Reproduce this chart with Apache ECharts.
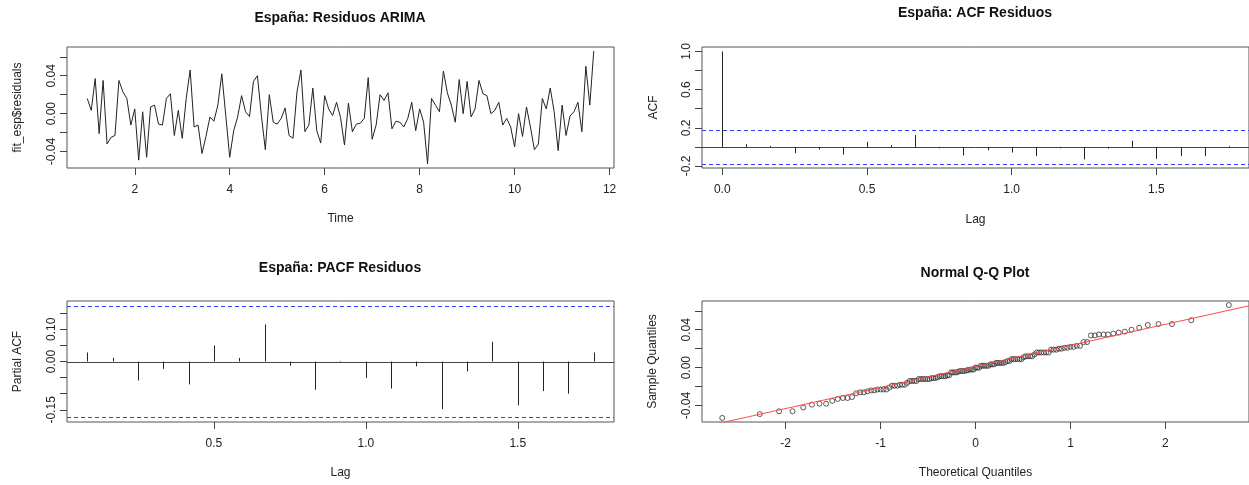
<!DOCTYPE html>
<html>
<head>
<meta charset="utf-8">
<title>España: residuos ARIMA</title>
<script src="https://cdn.jsdelivr.net/npm/echarts@6/dist/echarts.min.js"></script>
<style>
  html, body { margin: 0; padding: 0; background: #fff; }
  #chart { width: 1249px; height: 485px; }
</style>
</head>
<body>
<div id="chart"></div>
<script>
// serie mensual de residuos, empieza en t = 1
const tsStart = 1;
const tsFreq = 12;
const residuals = [
  0.016, 0.0035, 0.037, -0.021, 0.035, -0.032, -0.025, -0.023, 0.035, 0.023,
  0.016, -0.012, 0.005, -0.049, 0.002, -0.046, 0.007, 0.009, -0.011, -0.012,
  0.016, 0.021, -0.023, 0.0035, -0.026, 0.016, 0.046, -0.014, -0.012, -0.042,
  -0.024, -0.0035, -0.008, 0.009, 0.042, -0.002, -0.046, -0.018, -0.0035, 0.019,
  0.002, -0.003, 0.034, 0.040, -0.002, -0.038, 0.020, -0.009, -0.011, -0.005,
  0.006, -0.023, -0.026, 0.023, 0.046, -0.019, -0.012, 0.027, -0.018, -0.031,
  0.019, 0.005, -0.002, 0.012, -0.004, -0.033, 0.011, -0.019, -0.011, -0.010,
  -0.005, 0.038, -0.027, -0.012, 0.020, 0.014, 0.022, -0.016, -0.008, -0.009,
  -0.014, -0.005, 0.012, -0.018, 0.005, -0.009, -0.053, 0.016, 0.009, 0.002,
  0.045, 0.022, 0.009, -0.009, 0.036, 0.000, 0.034, -0.0035, 0.005, 0.035,
  0.021, 0.019, 0.000, 0.0035, 0.012, -0.012, -0.005, -0.014, -0.035, 0.000,
  -0.024, 0.007, -0.014, -0.038, -0.032, 0.016, 0.005, 0.027, 0.002, -0.039,
  0.009, -0.023, -0.0025, 0.002, 0.012, -0.019, 0.050, 0.009, 0.066
];
const tsXTicks = [2, 4, 6, 8, 10, 12];
const tsYTicks = [-0.04, -0.02, 0, 0.02, 0.04, 0.06];
const tsYLabels = [-0.04, 0, 0.04];

// ACF (lags 0..21, en años) y PACF (lags 1..21)
const lagFreq = 12;
const acfValues = [
  1, 0.028, 0.010, -0.066, -0.028, -0.080, 0.052, 0.020, 0.125, -0.014, -0.090,
  -0.035, -0.059, -0.097, -0.014, -0.131, -0.017, 0.066, -0.125, -0.097, -0.097, 0.008
];
const pacfValues = [
  0.028, 0.011, -0.059, -0.023, -0.071, 0.050, 0.011, 0.115, -0.013, -0.088,
  -0.003, -0.051, -0.084, -0.015, -0.148, -0.031, 0.061, -0.136, -0.092, -0.100, 0.028
];
const confBound = 0.174;
const acfXTicks = [0, 0.5, 1, 1.5];
const acfYTicks = [-0.2, 0, 0.2, 0.4, 0.6, 0.8, 1];
const acfYLabels = [-0.2, 0.2, 0.6, 1];
const pacfXTicks = [0.5, 1, 1.5];
const pacfYTicks = [-0.15, -0.1, -0.05, 0, 0.05, 0.1, 0.15];
const pacfYLabels = [-0.15, 0, 0.1];

// Q-Q normal
const qqTheoretical = [
  -2.667, -2.272, -2.069, -1.927, -1.814, -1.723, -1.643, -1.573, -1.508, -1.451,
  -1.396, -1.348, -1.300, -1.257, -1.215, -1.175, -1.138, -1.100, -1.066, -1.033,
  -0.999, -0.968, -0.938, -0.907, -0.879, -0.851, -0.823, -0.796, -0.770, -0.744,
  -0.719, -0.693, -0.669, -0.645, -0.621, -0.597, -0.575, -0.552, -0.529, -0.507,
  -0.485, -0.463, -0.442, -0.420, -0.399, -0.378, -0.358, -0.337, -0.316, -0.296,
  -0.276, -0.256, -0.236, -0.216, -0.195, -0.176, -0.156, -0.137, -0.117, -0.097,
  -0.078, -0.058, -0.039, -0.019, 0,
  0.019, 0.039, 0.058, 0.078, 0.097, 0.117, 0.137, 0.156, 0.176, 0.195,
  0.216, 0.236, 0.256, 0.276, 0.296, 0.316, 0.337, 0.358, 0.378, 0.399,
  0.420, 0.442, 0.463, 0.485, 0.507, 0.529, 0.552, 0.575, 0.597, 0.621,
  0.645, 0.669, 0.693, 0.719, 0.744, 0.770, 0.796, 0.823, 0.851, 0.879,
  0.907, 0.938, 0.968, 0.999, 1.033, 1.066, 1.100, 1.138, 1.175, 1.215,
  1.257, 1.300, 1.348, 1.396, 1.451, 1.508, 1.573, 1.643, 1.723, 1.814,
  1.927, 2.069, 2.272, 2.667
];
const qqSample = [
  -0.053, -0.049, -0.046, -0.046, -0.042, -0.039, -0.038, -0.038, -0.035, -0.033,
  -0.032, -0.032, -0.031, -0.027, -0.026, -0.026, -0.025, -0.024, -0.024, -0.023,
  -0.023, -0.023, -0.023, -0.021, -0.019, -0.019, -0.019, -0.018, -0.018, -0.018,
  -0.016, -0.014, -0.014, -0.014, -0.014, -0.012, -0.012, -0.012, -0.012, -0.012,
  -0.012, -0.011, -0.011, -0.011, -0.010, -0.009, -0.009, -0.009, -0.009, -0.008,
  -0.008, -0.005, -0.005, -0.005, -0.005, -0.004, -0.0035, -0.0035, -0.0035, -0.003,
  -0.0025, -0.002, -0.002, -0.002, 0.000, 0.000, 0.000, 0.002, 0.002, 0.002,
  0.002, 0.002, 0.0035, 0.0035, 0.0035, 0.005, 0.005, 0.005, 0.005, 0.005,
  0.006, 0.007, 0.007, 0.009, 0.009, 0.009, 0.009, 0.009, 0.009, 0.011,
  0.012, 0.012, 0.012, 0.012, 0.014, 0.016, 0.016, 0.016, 0.016, 0.016,
  0.016, 0.019, 0.019, 0.019, 0.020, 0.020, 0.021, 0.021, 0.022, 0.022,
  0.023, 0.023, 0.027, 0.027, 0.034, 0.034, 0.035, 0.035, 0.035, 0.036,
  0.037, 0.038, 0.040, 0.042, 0.045, 0.046, 0.046, 0.050, 0.066
];
const qqLineIntercept = 0.0013;
const qqLineSlope = 0.0222;
const qqXTicks = [-2, -1, 0, 1, 2];

const FONT = 'Liberation Sans';
const INK = '#222';

// limites de los ejes (como los pone R: rango + 4%)
const tsRange = [0.573, 12.093];
const acfRange = [-0.07, 1.82];
const pacfRange = [0.0167, 1.8167];
const qqRange = [-2.88, 2.88];

// eje estilo R: caja aparte, ticks hacia fuera, etiquetas solo donde toca
function rAxis(range, ticks, labels, digits, name, isY, nameGap) {
  return {
    type: 'value',
    min: range[0],
    max: range[1],
    name: name,
    nameLocation: 'middle',
    nameGap: nameGap,
    nameTextStyle: { color: INK, fontSize: 12, fontFamily: FONT },
    axisLine: { show: false, onZero: false },
    splitLine: { show: false },
    axisTick: { show: true, length: 7, customValues: ticks, lineStyle: { color: '#444' } },
    axisLabel: {
      customValues: labels,
      rotate: isY ? 90 : 0,
      margin: isY ? 9 : 16,
      color: INK,
      fontSize: 12,
      fontFamily: FONT,
      formatter: v => v.toFixed(digits)
    }
  };
}

// barras finas tipo 'h' de R
function stem(params, api) {
  const base = api.coord([api.value(0), 0]);
  const tip = api.coord([api.value(0), api.value(1)]);
  const x = Math.round(base[0]) + 0.5;
  return {
    type: 'line',
    shape: { x1: x, y1: base[1], x2: x, y2: tip[1] },
    style: { stroke: INK, lineWidth: 1 }
  };
}

// lineas horizontales a lo ancho del panel: [xIni, nivel, xFin, tipo]
function refLines(levels, xRange, gi) {
  return {
    type: 'custom',
    xAxisIndex: gi, yAxisIndex: gi,
    silent: true,
    encode: { x: [0, 2], y: 1 },
    data: levels.map(l => [xRange[0], l[0], xRange[1], l[1]]),
    renderItem: function (params, api) {
      const p1 = api.coord([api.value(0), api.value(1)]);
      const p2 = api.coord([api.value(2), api.value(1)]);
      const y = Math.round(p1[1]) + 0.5;
      const dashed = api.value(3) === 1;
      return {
        type: 'line',
        shape: { x1: p1[0], y1: y, x2: p2[0], y2: y },
        style: {
          stroke: dashed ? '#3c3cff' : '#444',
          lineWidth: 1,
          lineDash: dashed ? [4, 3] : null
        }
      };
    }
  };
}

const titleStyle = { fontSize: 14, fontWeight: 'bold', color: '#111', fontFamily: FONT };
const box = { show: true, borderColor: '#555', borderWidth: 1, backgroundColor: 'transparent' };
// nivel y si es discontinua (1) o no (0)
const corrRefs = [[0, 0], [confBound, 1], [-confBound, 1]];

const chart = echarts.init(document.getElementById('chart'), null, { renderer: 'canvas' });

chart.setOption({
  backgroundColor: '#fff',
  animation: false,
  title: [
    { text: 'España: Residuos ARIMA', left: 340, top: 11, textAlign: 'center', padding: 0, textStyle: titleStyle },
    { text: 'España: ACF Residuos', left: 975, top: 6, textAlign: 'center', padding: 0, textStyle: titleStyle },
    { text: 'España: PACF Residuos', left: 340, top: 261, textAlign: 'center', padding: 0, textStyle: titleStyle },
    { text: 'Normal Q-Q Plot', left: 975, top: 266, textAlign: 'center', padding: 0, textStyle: titleStyle }
  ],
  grid: [
    Object.assign({ left: 67, top: 47, width: 547, height: 121 }, box),
    Object.assign({ left: 702, top: 47, width: 547, height: 121 }, box),
    Object.assign({ left: 67, top: 301, width: 547, height: 121 }, box),
    Object.assign({ left: 702, top: 301, width: 547, height: 121 }, box)
  ],
  xAxis: [
    Object.assign(rAxis(tsRange, tsXTicks, tsXTicks, 0, 'Time', false, 45), { gridIndex: 0 }),
    Object.assign(rAxis(acfRange, acfXTicks, acfXTicks, 1, 'Lag', false, 46), { gridIndex: 1 }),
    Object.assign(rAxis(pacfRange, pacfXTicks, pacfXTicks, 1, 'Lag', false, 45), { gridIndex: 2 }),
    Object.assign(rAxis(qqRange, qqXTicks, qqXTicks, 0, 'Theoretical Quantiles', false, 45), { gridIndex: 3 })
  ],
  yAxis: [
    Object.assign(rAxis([-0.0573, 0.0703], tsYTicks, tsYLabels, 2, 'fit_esp$residuals', true, 43), { gridIndex: 0 }),
    Object.assign(rAxis([-0.221, 1.047], acfYTicks, acfYLabels, 1, 'ACF', true, 42), { gridIndex: 1 }),
    Object.assign(rAxis([-0.188, 0.188], pacfYTicks, pacfYLabels, 2, 'Partial ACF', true, 43), { gridIndex: 2 }),
    Object.assign(rAxis([-0.0573, 0.0703], tsYTicks, tsYLabels, 2, 'Sample Quantiles', true, 43), { gridIndex: 3 })
  ],
  series: [
    {
      name: 'residuos',
      type: 'line',
      xAxisIndex: 0, yAxisIndex: 0,
      data: residuals.map((v, i) => [tsStart + i / tsFreq, v]),
      symbol: 'none',
      lineStyle: { color: INK, width: 1 }
    },
    refLines(corrRefs, acfRange, 1),
    {
      name: 'ACF',
      type: 'custom',
      xAxisIndex: 1, yAxisIndex: 1,
      renderItem: stem,
      encode: { x: 0, y: 1 },
      data: acfValues.map((v, i) => [i / lagFreq, v])
    },
    refLines(corrRefs, pacfRange, 2),
    {
      name: 'PACF',
      type: 'custom',
      xAxisIndex: 2, yAxisIndex: 2,
      renderItem: stem,
      encode: { x: 0, y: 1 },
      data: pacfValues.map((v, i) => [(i + 1) / lagFreq, v])
    },
    {
      name: 'Q-Q',
      type: 'scatter',
      xAxisIndex: 3, yAxisIndex: 3,
      data: qqTheoretical.map((q, i) => [q, qqSample[i]]),
      symbol: 'circle',
      symbolSize: 5,
      itemStyle: { color: 'rgba(0,0,0,0)', borderColor: '#333', borderWidth: 1 }
    },
    {
      name: 'qqline',
      type: 'line',
      xAxisIndex: 3, yAxisIndex: 3,
      z: 5,
      data: [
        [qqRange[0], qqLineIntercept + qqLineSlope * qqRange[0]],
        [qqRange[1], qqLineIntercept + qqLineSlope * qqRange[1]]
      ],
      symbol: 'none',
      lineStyle: { color: '#ff4d4d', width: 1 }
    }
  ]
});
</script>
</body>
</html>
